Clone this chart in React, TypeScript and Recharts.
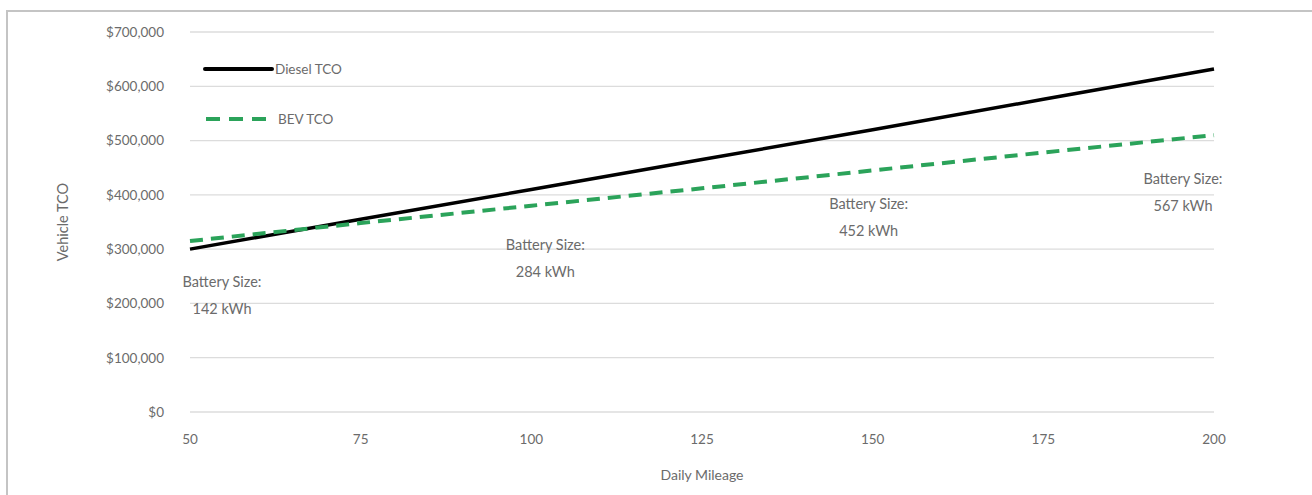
import React from 'react';
import {
  LineChart,
  Line,
  XAxis,
  YAxis,
  CartesianGrid,
  ReferenceDot,
} from 'recharts';

if (typeof document !== 'undefined') {
  document.body.style.margin = '0';
}

const mileage = [50, 75, 100, 125, 150, 175, 200];
const dieselTCO = [300000, 355000, 410000, 465000, 520000, 576000, 632000];
const bevTCO = [315000, 348000, 380000, 412000, 445000, 478000, 510000];

const xTicks = [50, 75, 100, 125, 150, 175, 200];
const yTicks = [0, 100000, 200000, 300000, 400000, 500000, 600000, 700000];

const batteryMileage = [50, 100, 150, 200];
const batterySizeKWh = [142, 284, 452, 567];

const seriesNames = ['Diesel TCO', 'BEV TCO'];

const data = mileage.map((m, i) => ({ mileage: m, diesel: dieselTCO[i], bev: bevTCO[i] }));

const TEXT = '#6b6b6b';
const FONT = 'Lato, "Open Sans", sans-serif';
const GREEN = '#2ba35a';

// pixel offsets for the battery-size annotations relative to the BEV point
const labelShift = [
  { dx: 32, dy: 54 },
  { dx: 14, dy: 52 },
  { dx: -4, dy: 47 },
  { dx: -31, dy: 57 },
];

const fmtMoney = (v: number) => '$' + v.toLocaleString('en-US');

const LegendOverlay = () => (
  <svg
    width={220}
    height={90}
    style={{ position: 'absolute', left: 203, top: 55, overflow: 'visible' }}
  >
    <line x1={2} y1={14} x2={69} y2={14} stroke="#000" strokeWidth={4} strokeLinecap="round" />
    <text x={72} y={14} fill={TEXT} fontSize={13.5} fontFamily={FONT} dominantBaseline="central">
      {seriesNames[0]}
    </text>
    <line x1={3} y1={64} x2={64} y2={64} stroke={GREEN} strokeWidth={4} strokeDasharray="14 9" />
    <text x={75} y={64} fill={TEXT} fontSize={13.5} fontFamily={FONT} dominantBaseline="central">
      {seriesNames[1]}
    </text>
  </svg>
);

export default function App() {
  return (
    <div style={{ position: 'relative', width: 1312, height: 495, background: '#fff', overflow: 'hidden' }}>
      <div
        style={{
          position: 'absolute',
          left: 6,
          top: 10,
          right: -10,
          bottom: -10,
          borderTop: '2px solid #c4c4c4',
          borderLeft: '2px solid #c4c4c4',
        }}
      />
      <LineChart
        width={1312}
        height={495}
        data={data}
        margin={{ top: 32, right: 98, bottom: 53, left: 0 }}
        style={{ position: 'absolute', left: 0, top: 0 }}
      >
        <CartesianGrid vertical={false} stroke="#dcdcdc" strokeWidth={1.3} />
        <XAxis
          dataKey="mileage"
          type="number"
          domain={[50, 200]}
          ticks={xTicks}
          axisLine={false}
          tickLine={false}
          tickSize={0}
          tickMargin={22}
          height={30}
          tick={{ fill: TEXT, fontSize: 13.5, fontFamily: FONT }}
          label={{
            content: (p: any) => {
              const vb = p.viewBox;
              return (
                <text
                  x={vb.x + vb.width / 2}
                  y={474}
                  textAnchor="middle"
                  dominantBaseline="central"
                  fill={TEXT}
                  fontSize={14}
                  fontFamily={FONT}
                >
                  Daily Mileage
                </text>
              );
            },
          }}
        />
        <YAxis
          type="number"
          domain={[0, 700000]}
          ticks={yTicks}
          axisLine={false}
          tickLine={false}
          tickSize={0}
          tickMargin={26}
          width={190}
          tickFormatter={fmtMoney}
          tick={{ fill: TEXT, fontSize: 13.5, fontFamily: FONT }}
          label={{
            content: (p: any) => {
              const vb = p.viewBox;
              const cx = vb.x + 62;
              const cy = vb.y + vb.height / 2;
              return (
                <text
                  x={cx}
                  y={cy}
                  transform={`rotate(-90, ${cx}, ${cy})`}
                  textAnchor="middle"
                  dominantBaseline="central"
                  fill={TEXT}
                  fontSize={14.5}
                  fontFamily={FONT}
                >
                  Vehicle TCO
                </text>
              );
            },
          }}
        />
        <Line
          type="linear"
          dataKey="diesel"
          name={seriesNames[0]}
          stroke="#000"
          strokeWidth={3.5}
          dot={false}
          activeDot={false}
          isAnimationActive={false}
        />
        <Line
          type="linear"
          dataKey="bev"
          name={seriesNames[1]}
          stroke={GREEN}
          strokeWidth={4}
          strokeDasharray="13 8"
          dot={false}
          activeDot={false}
          isAnimationActive={false}
        />
        {batteryMileage.map((m, i) => {
          const idx = mileage.indexOf(m);
          const yv = bevTCO[idx];
          const s = labelShift[i];
          return (
            <ReferenceDot
              key={m}
              x={m}
              y={yv}
              r={0}
              fill="none"
              stroke="none"
              label={{
                content: (p: any) => {
                  const vb = p.viewBox || {};
                  const cx = (vb.x ?? 0) + (vb.width ?? 0) / 2 + s.dx;
                  const cy = (vb.y ?? 0) + (vb.height ?? 0) / 2 + s.dy;
                  return (
                    <text
                      x={cx}
                      y={cy}
                      textAnchor="middle"
                      fill={TEXT}
                      fontSize={14.5}
                      fontFamily={FONT}
                    >
                      <tspan x={cx} dy={-8}>Battery Size:</tspan>
                      <tspan x={cx} dy={27}>{`${batterySizeKWh[i]} kWh`}</tspan>
                    </text>
                  );
                },
              }}
            />
          );
        })}
      </LineChart>
      <LegendOverlay />
    </div>
  );
}
